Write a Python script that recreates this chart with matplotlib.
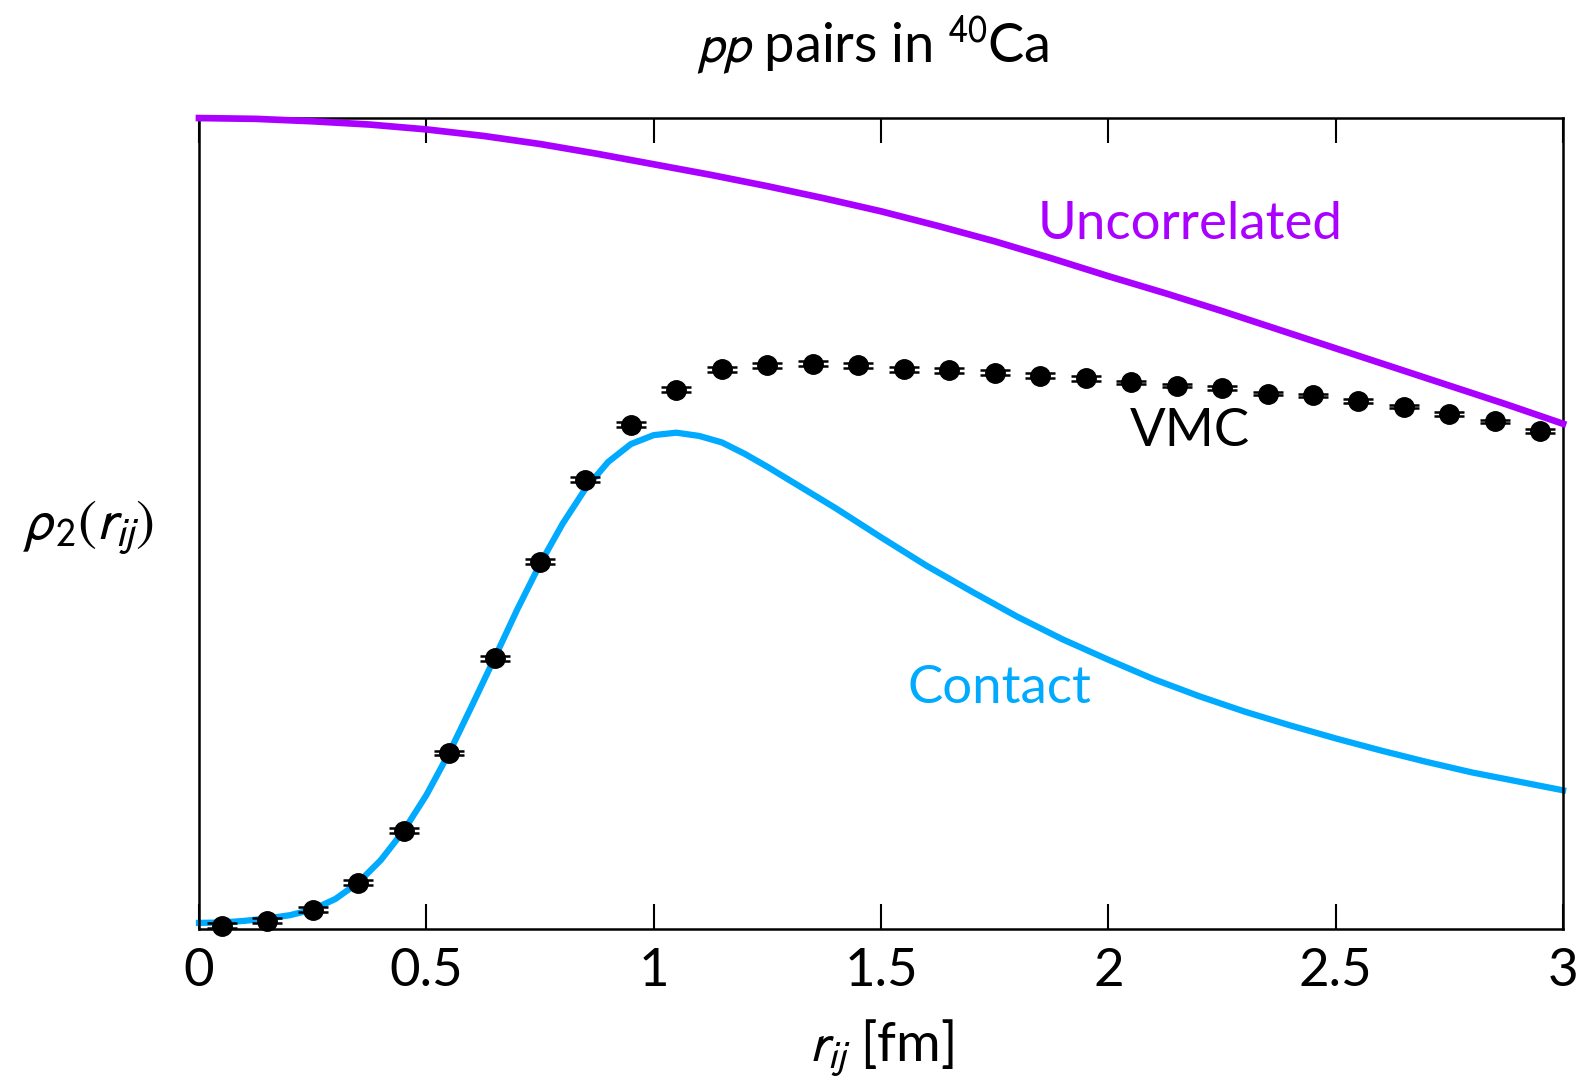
import numpy as np
import matplotlib
matplotlib.use("Agg")
import matplotlib.pyplot as plt

# ---- data (arbitrary y units) ----
r_vmc = [0.05, 0.15, 0.25, 0.35, 0.45, 0.55, 0.65, 0.75, 0.85, 0.95,
         1.05, 1.15, 1.25, 1.35, 1.45, 1.55, 1.65, 1.75, 1.85, 1.95,
         2.05, 2.15, 2.25, 2.35, 2.45, 2.55, 2.65, 2.75, 2.85, 2.95]
rho_vmc = [0.004, 0.010, 0.024, 0.057, 0.121, 0.217, 0.334, 0.453, 0.554, 0.622,
           0.665, 0.690, 0.695, 0.697, 0.695, 0.690, 0.689, 0.686, 0.682, 0.679,
           0.674, 0.670, 0.667, 0.660, 0.658, 0.651, 0.644, 0.635, 0.626, 0.614]
err_vmc = [0.003] * 20 + [0.002] * 10

r_contact = [0.00, 0.05, 0.10, 0.15, 0.20, 0.25, 0.30, 0.35, 0.40, 0.45,
             0.50, 0.55, 0.60, 0.65, 0.70, 0.75, 0.80, 0.85, 0.90, 0.95,
             1.00, 1.05, 1.10, 1.15, 1.20, 1.25, 1.30, 1.35, 1.40, 1.45,
             1.50, 1.60, 1.70, 1.80, 1.90, 2.00, 2.10, 2.20, 2.30, 2.40,
             2.50, 2.60, 2.70, 2.80, 2.90, 3.00]
rho_contact = [0.0075, 0.008, 0.010, 0.013, 0.017, 0.024, 0.037, 0.057, 0.085, 0.121,
               0.165, 0.217, 0.275, 0.334, 0.394, 0.450, 0.500, 0.543, 0.576, 0.598,
               0.609, 0.612, 0.608, 0.600, 0.586, 0.570, 0.553, 0.536, 0.519, 0.501,
               0.483, 0.448, 0.416, 0.385, 0.357, 0.332, 0.308, 0.287, 0.268, 0.251,
               0.235, 0.220, 0.206, 0.193, 0.182, 0.171]

r_uncorr = [0.0, 0.125, 0.25, 0.375, 0.5, 0.625, 0.75, 0.875, 1.0, 1.125, 1.25,
            1.375, 1.5, 1.625, 1.75, 1.875, 2.0, 2.125, 2.25, 2.375, 2.5,
            2.625, 2.75, 2.875, 3.0]
rho_uncorr = [1.0, 0.999, 0.996, 0.992, 0.986, 0.978, 0.968, 0.956, 0.943, 0.930,
              0.916, 0.901, 0.885, 0.867, 0.848, 0.827, 0.805, 0.784, 0.762, 0.739,
              0.716, 0.693, 0.670, 0.647, 0.623]

xticks = [0, 0.5, 1, 1.5, 2, 2.5, 3]
xtick_labels = ["0", "0.5", "1", "1.5", "2", "2.5", "3"]

purple = "#aa00ff"
blue = "#00aaff"

plt.rcParams["font.family"] = ["Lato", "DejaVu Sans"]
plt.rcParams["mathtext.fontset"] = "stixsans"

fig = plt.figure(figsize=(15.83, 10.85), dpi=100)
ax = fig.add_axes([0.1257, 0.1438, 0.9874 - 0.1257, 0.8912 - 0.1438])

ax.plot(r_uncorr, rho_uncorr, color=purple, lw=4.8, clip_on=False, zorder=3)
ax.plot(r_contact, rho_contact, color=blue, lw=4.5, clip_on=False, zorder=2)
ax.errorbar(r_vmc, rho_vmc, yerr=err_vmc, fmt="o", color="black", ms=14,
            elinewidth=1.5, capsize=11, capthick=1.8, clip_on=False, zorder=4)

ax.text(2.18, 0.869, "Uncorrelated", color=purple, fontsize=38,
        ha="center", va="center")
ax.text(2.18, 0.614, "VMC", color="black", fontsize=38, ha="center", va="center")
ax.text(1.76, 0.296, "Contact", color=blue, fontsize=38, ha="center", va="center")

ax.set_xlim(0, 3)
ax.set_ylim(0, 1)
ax.set_xticks(xticks)
ax.set_xticklabels(xtick_labels)
ax.set_yticks([])
ax.tick_params(axis="x", direction="in", top=True, length=18, width=1.5,
               labelsize=38, pad=14)
for s in ax.spines.values():
    s.set_linewidth(1.8)

ax.set_xlabel(r"$r_{ij}$ [fm]", fontsize=39, labelpad=16)
fig.text(0.056, 0.514, r"$\rho_2(r_{ij})$", fontsize=41, ha="center", va="center")
fig.text(0.551, 0.958, r"$pp$ pairs in $^{40}$Ca", fontsize=39,
         ha="center", va="center")

fig.savefig("out.png", dpi=100)
